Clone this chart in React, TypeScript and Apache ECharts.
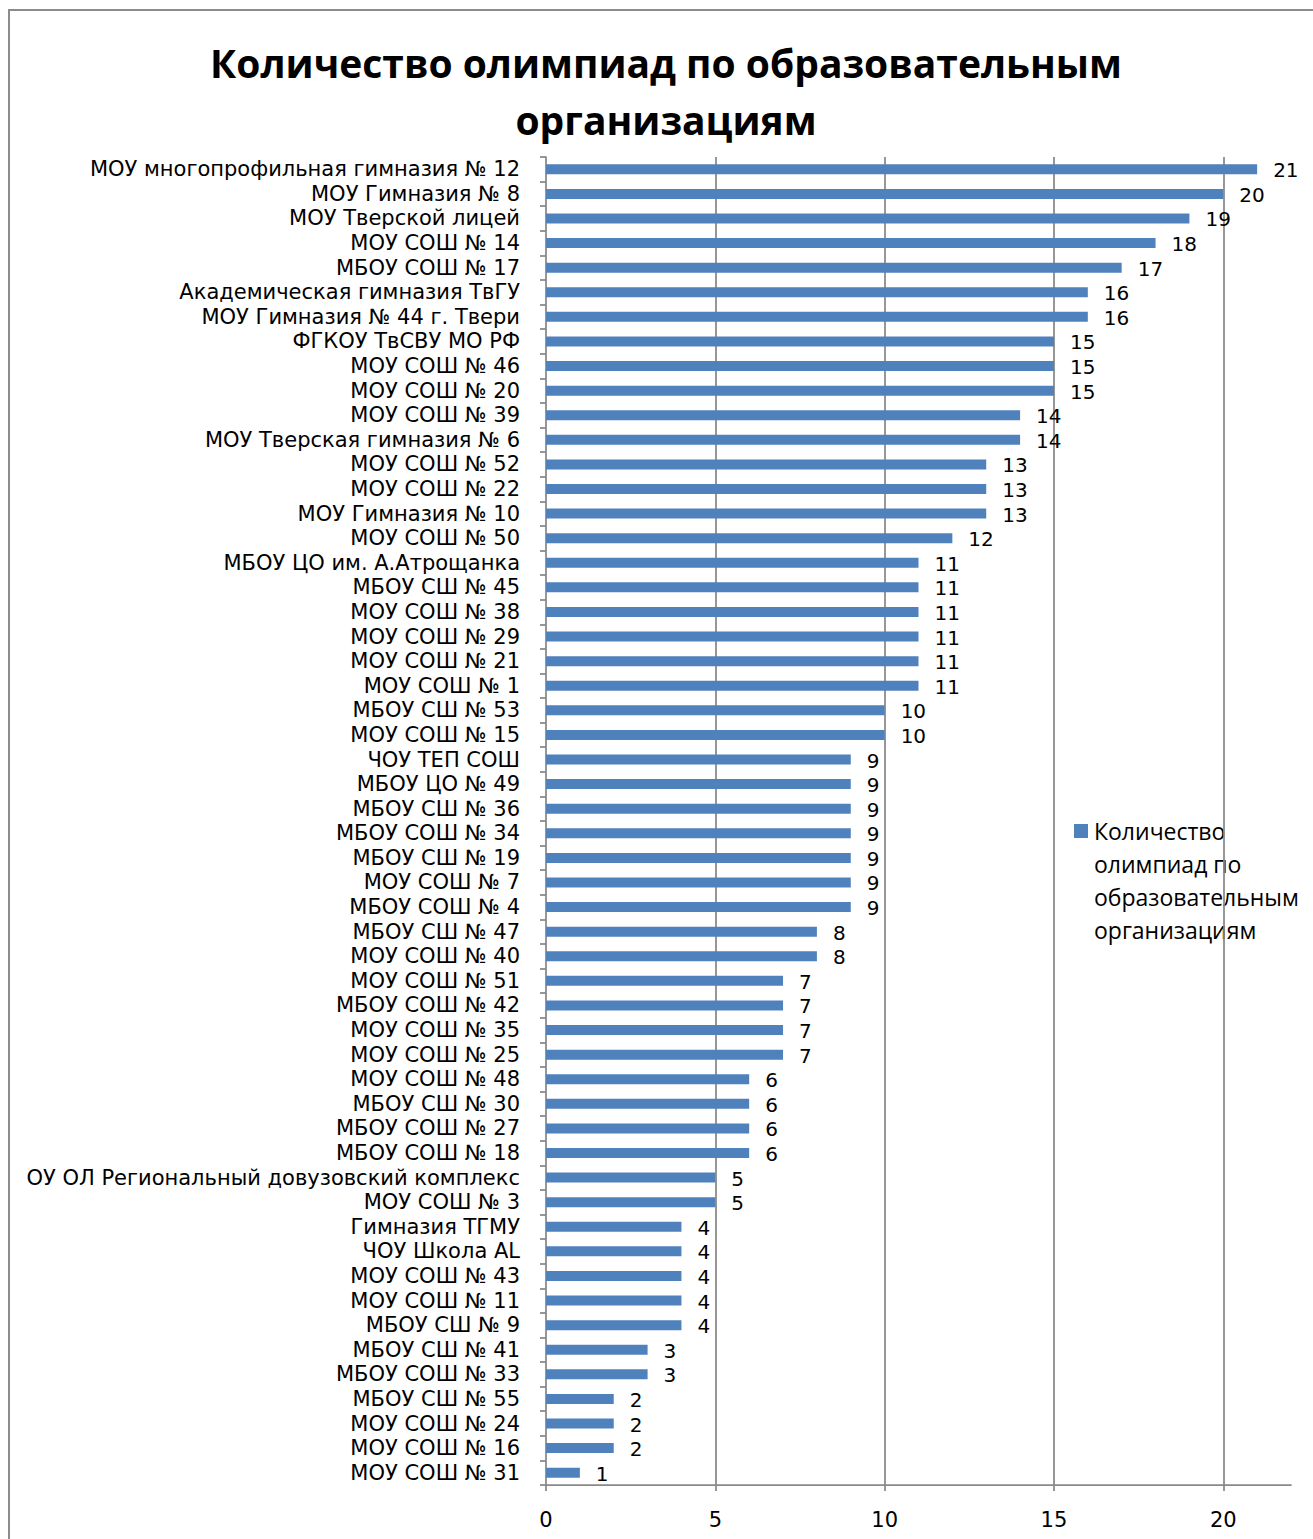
import React, { useEffect, useRef } from 'react';
import * as echarts from 'echarts';

const categories = [
  'МОУ многопрофильная гимназия № 12',
  'МОУ Гимназия № 8',
  'МОУ Тверской лицей',
  'МОУ СОШ № 14',
  'МБОУ СОШ № 17',
  'Академическая гимназия ТвГУ',
  'МОУ Гимназия № 44 г. Твери',
  'ФГКОУ ТвСВУ МО РФ',
  'МОУ СОШ № 46',
  'МОУ СОШ № 20',
  'МОУ СОШ № 39',
  'МОУ Тверская гимназия № 6',
  'МОУ СОШ № 52',
  'МОУ СОШ № 22',
  'МОУ Гимназия № 10',
  'МОУ СОШ № 50',
  'МБОУ ЦО им. А.Атрощанка',
  'МБОУ СШ № 45',
  'МОУ СОШ № 38',
  'МОУ СОШ № 29',
  'МОУ СОШ № 21',
  'МОУ СОШ № 1',
  'МБОУ СШ № 53',
  'МОУ СОШ № 15',
  'ЧОУ ТЕП СОШ',
  'МБОУ ЦО № 49',
  'МБОУ СШ № 36',
  'МБОУ СОШ № 34',
  'МБОУ СШ № 19',
  'МОУ СОШ № 7',
  'МБОУ СОШ № 4',
  'МБОУ СШ № 47',
  'МОУ СОШ № 40',
  'МОУ СОШ № 51',
  'МБОУ СОШ № 42',
  'МОУ СОШ № 35',
  'МОУ СОШ № 25',
  'МОУ СОШ № 48',
  'МБОУ СШ № 30',
  'МБОУ СОШ № 27',
  'МБОУ СОШ № 18',
  'ОУ ОЛ Региональный довузовский комплекс',
  'МОУ СОШ № 3',
  'Гимназия ТГМУ',
  'ЧОУ Школа AL',
  'МОУ СОШ № 43',
  'МОУ СОШ № 11',
  'МБОУ СШ № 9',
  'МБОУ СШ № 41',
  'МБОУ СОШ № 33',
  'МБОУ СШ № 55',
  'МОУ СОШ № 24',
  'МОУ СОШ № 16',
  'МОУ СОШ № 31',
];

const values = [
  21, 20, 19, 18, 17, 16, 16, 15, 15, 15, 14, 14, 13, 13, 13, 12, 11, 11, 11, 11,
  11, 11, 10, 10, 9, 9, 9, 9, 9, 9, 9, 8, 8, 7, 7, 7, 7, 6, 6, 6,
  6, 5, 5, 4, 4, 4, 4, 4, 3, 3, 2, 2, 2, 1,
];

const xTicks = [0, 5, 10, 15, 20];
const gridLines = [5, 10, 15, 20];
const seriesName = 'Количество олимпиад по образовательным организациям';
const titleText = 'Количество олимпиад по образовательным\nорганизациям';
const legendLines = ['Количество', 'олимпиад по', 'образовательным', 'организациям'];

const FONT = '"Open Sans", "Noto Sans", sans-serif';
const LFONT = '"DejaVu Sans", "Liberation Sans", sans-serif';
const GRAY = '#898989';
const BLUE = '#4F81BD';

export default function App() {
  const ref = useRef<HTMLDivElement>(null);

  useEffect(() => {
    if (!ref.current) return;
    const chart = echarts.init(ref.current, null, { renderer: 'svg' });
    chart.setOption({
      animation: false,
      backgroundColor: '#ffffff',
      textStyle: { fontFamily: LFONT },
      title: {
        text: titleText,
        left: 661,
        top: 29,
        textAlign: 'center',
        textStyle: {
          fontFamily: FONT,
          fontSize: 39,
          fontWeight: 'bold',
          lineHeight: 57,
          color: '#000',
        },
      },
      grid: { left: 546, right: 22, top: 157, bottom: 54, containLabel: false },
      xAxis: {
        type: 'value',
        min: 0,
        max: 22,
        interval: 5,
        axisLine: { show: true, lineStyle: { color: GRAY, width: 1.75 } },
        axisTick: { show: true, length: 6, customValues: xTicks, lineStyle: { color: GRAY, width: 1.75 } },
        axisLabel: { customValues: xTicks, fontSize: 21, color: '#000', margin: 24, fontFamily: LFONT },
        splitLine: { show: false },
      },
      yAxis: {
        type: 'category',
        inverse: true,
        data: categories,
        axisLine: { show: true, lineStyle: { color: GRAY, width: 1.75 } },
        axisTick: { show: true, length: 6, lineStyle: { color: GRAY, width: 1.75 } },
        axisLabel: { fontSize: 21, lineHeight: 22, color: '#000', margin: 26, fontFamily: LFONT, interval: 0 },
        splitLine: { show: false },
      },
      series: [
        {
          name: seriesName,
          type: 'bar',
          data: values,
          barWidth: 10,
          z: 2,
          itemStyle: { color: BLUE },
          label: {
            show: true,
            position: 'right',
            distance: 16,
            offset: [0, 1],
            fontSize: 20,
            lineHeight: 22,
            color: '#000',
            fontFamily: LFONT,
          },
          markLine: {
            z: 1,
            silent: true,
            symbol: 'none',
            label: { show: false },
            lineStyle: { color: GRAY, width: 1.75, type: 'solid' },
            data: gridLines.map((v) => ({ xAxis: v })),
          },
        },
      ],
      graphic: [
        {
          type: 'rect',
          silent: true,
          shape: { x: 9, y: 10, width: 1400, height: 1600 },
          style: { fill: 'none', stroke: '#8c8c8c', lineWidth: 2 },
        },
        {
          type: 'rect',
          silent: true,
          shape: { x: 1074, y: 824, width: 14, height: 14 },
          style: { fill: BLUE },
        },
        {
          type: 'text',
          silent: true,
          x: 1094,
          y: 814,
          style: {
            text: legendLines.join('\n'),
            fontSize: 23,
            lineHeight: 33,
            fill: '#000',
            fontFamily: FONT,
          },
        },
      ],
    });
    return () => chart.dispose();
  }, []);

  return (
    <div
      ref={ref}
      style={{ position: 'absolute', left: 0, top: 0, width: 1313, height: 1539 }}
    />
  );
}
